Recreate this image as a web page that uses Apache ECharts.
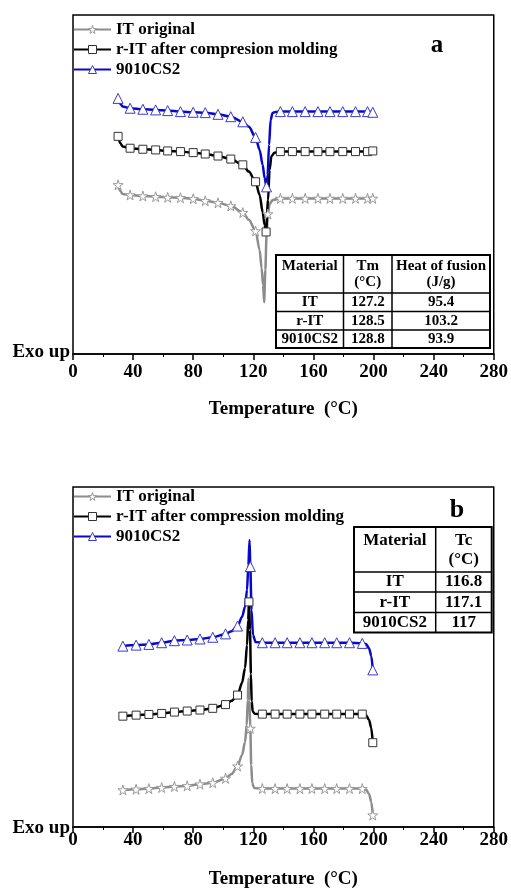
<!DOCTYPE html>
<html><head><meta charset="utf-8">
<script src="https://cdn.jsdelivr.net/npm/echarts@6/dist/echarts.min.js"></script>
<style>html,body{margin:0;padding:0;background:#fff}#c{width:511px;height:890px}</style>
</head><body><div id="c"></div>
<script>
// ---------- Chart (a): melting curves ----------
const aT_IT = [30, 31.5, 33, 38, 46.5, 55, 63, 71.5, 80, 88, 96.5, 105, 113, 117, 121.5, 124.2, 125.5, 126.5, 127.2, 128.0, 128.8, 129.7, 130.8, 132.8, 138, 146, 154.5, 163, 171, 179.5, 188, 196, 199.5];
const aV_IT = [49.9, 48.1, 47.2, 46.9, 46.6, 46.4, 46.2, 46.1, 45.8, 45.2, 44.6, 43.7, 41.7, 39.6, 36.3, 30.7, 25.4, 20.4, 15.3, 24.8, 35.1, 41.3, 44.2, 45.4, 45.9, 45.9, 45.9, 45.9, 45.9, 45.9, 45.9, 45.9, 45.9];
const aM_IT = [30, 38, 46.5, 55, 63, 71.5, 80, 88, 96.5, 105, 113, 121.5, 129.7, 138, 146, 154.5, 163, 171, 179.5, 188, 196, 199.5];

const aT_R = [30, 31.5, 33, 38, 46.5, 55, 63, 71.5, 80, 88, 96.5, 105, 113, 117, 121.5, 124.2, 126.2, 127.5, 128.5, 129.8, 130.8, 132.1, 134.1, 138, 146, 154.5, 163, 171, 179.5, 188, 196, 199.5];
const aV_R = [64.2, 62.2, 61.2, 60.7, 60.4, 60.2, 59.9, 59.7, 59.4, 59.0, 58.4, 57.5, 55.8, 53.8, 50.8, 46.9, 41.9, 38.1, 36.0, 45.4, 54.3, 58.4, 59.4, 59.7, 59.7, 59.7, 59.7, 59.7, 59.7, 59.7, 59.7, 59.9];
const aM_R = [30, 38, 46.5, 55, 63, 71.5, 80, 88, 96.5, 105, 113, 121.5, 128.5, 138, 146, 154.5, 163, 171, 179.5, 188, 196, 199.5];

const aT_C = [30, 31.5, 33, 38, 46.5, 55, 63, 71.5, 80, 88, 96.5, 105, 113, 117, 121.5, 124.2, 126.2, 127.5, 128.8, 129.5, 130.5, 131.5, 132.8, 134.8, 138, 146, 154.5, 163, 171, 179.5, 188, 196, 199.5];
const aV_C = [75.4, 73.8, 73.0, 72.5, 72.2, 72.0, 71.8, 71.5, 71.3, 71.2, 70.7, 70.0, 68.5, 67.0, 63.9, 60.2, 55.8, 51.9, 49.3, 52.8, 61.7, 69.0, 71.1, 71.4, 71.5, 71.5, 71.5, 71.5, 71.5, 71.5, 71.5, 71.5, 71.3];
const aM_C = [30, 38, 46.5, 55, 63, 71.5, 80, 88, 96.5, 105, 113, 121.5, 128.8, 138, 146, 154.5, 163, 171, 179.5, 188, 196, 199.5];

// ---------- Chart (b): crystallization curves ----------
const bT_IT = [33.2, 42, 50.5, 59, 67.5, 76, 84.5, 93, 101.5, 105.5, 109.5, 112.5, 114.5, 115.6, 116.3, 116.8, 117.4, 118.0, 118.6, 119.3, 120.5, 126, 134.5, 142.5, 151, 159, 167.5, 175.5, 184, 192.5, 195, 197, 198.5, 199.5];
const bV_IT = [10.9, 11.1, 11.3, 11.6, 11.9, 12.1, 12.6, 13.0, 14.3, 15.6, 17.9, 21.2, 25.0, 30.0, 37.4, 43.7, 37.0, 29.0, 18.2, 12.9, 11.5, 11.3, 11.3, 11.3, 11.3, 11.3, 11.3, 11.3, 11.3, 11.3, 11.0, 9.7, 7.4, 3.5];
const bM_IT = [33.2, 42, 50.5, 59, 67.5, 76, 84.5, 93, 101.5, 109.5, 118.0, 126, 134.5, 142.5, 151, 159, 167.5, 175.5, 184, 192.5, 199.5];

const bT_R = [33.2, 42, 50.5, 59, 67.5, 76, 84.5, 93, 101.5, 105.5, 109.5, 112.5, 114.5, 115.8, 116.6, 117.1, 117.8, 118.4, 118.9, 119.6, 121, 126, 134.5, 142.5, 151, 159, 167.5, 175.5, 184, 192.5, 195, 197, 198.5, 199.5];
const bV_R = [32.6, 32.9, 33.1, 33.4, 33.8, 34.1, 34.4, 34.9, 36.0, 37.1, 38.8, 42.4, 46.8, 53.5, 60.9, 66.2, 58.0, 45.0, 37.0, 34.0, 33.3, 33.2, 33.2, 33.2, 33.2, 33.2, 33.2, 33.2, 33.2, 33.2, 32.9, 31.5, 29.1, 24.8];
const bM_R = [33.2, 42, 50.5, 59, 67.5, 76, 84.5, 93, 101.5, 109.5, 117.1, 126, 134.5, 142.5, 151, 159, 167.5, 175.5, 184, 192.5, 199.5];

const bT_C = [33.2, 42, 50.5, 59, 67.5, 76, 84.5, 93, 101.5, 105.5, 109.5, 112.5, 114.5, 115.8, 116.7, 117.5, 118.0, 118.8, 119.8, 121.5, 126, 134.5, 142.5, 151, 159, 167.5, 175.5, 184, 192.5, 195, 197, 198.5, 199.5];
const bV_C = [53.2, 53.5, 53.7, 54.2, 54.8, 55.0, 55.3, 55.8, 56.8, 57.6, 59.1, 61.8, 64.8, 69.7, 77.0, 84.4, 76.6, 63.8, 56.5, 54.4, 54.2, 54.2, 54.2, 54.2, 54.2, 54.2, 54.2, 54.2, 54.0, 53.8, 52.6, 50.3, 46.2];
const bM_C = [33.2, 42, 50.5, 59, 67.5, 76, 84.5, 93, 101.5, 109.5, 118.0, 126, 134.5, 142.5, 151, 159, 167.5, 175.5, 184, 192.5, 199.5];

// ---------- labels / tables ----------
const seriesNames = ['IT original', 'r-IT after compresion molding', '9010CS2'];
const seriesNamesB = ['IT original', 'r-IT after compression molding', '9010CS2'];
const xTitle = 'Temperature  (°C)';
const tableAHead = [['Material'], ['Tm', '(°C)'], ['Heat of fusion', '(J/g)']];
const tableARows = [['IT', '127.2', '95.4'], ['r-IT', '128.5', '103.2'], ['9010CS2', '128.8', '93.9']];
const tableBHead = [['Material'], ['Tc', '(°C)']];
const tableBRows = [['IT', '116.8'], ['r-IT', '117.1'], ['9010CS2', '117']];

const FONT = '"Liberation Serif", "Times New Roman", serif';
const STAR = 'path://M50,0 L61,35 L98,35 L68,57 L79,91 L50,70 L21,91 L32,57 L2,35 L39,35 Z';

function mk(name, T, V, M, g, color, sym, size, border) {
  return {
    name: name, type: 'line', xAxisIndex: g, yAxisIndex: g,
    smooth: 0.3, smoothMonotone: 'x',
    symbol: sym, symbolSize: size, showSymbol: true, showAllSymbol: true,
    lineStyle: { color: color, width: 2.5 },
    itemStyle: { color: '#fff', borderColor: border, borderWidth: 1 },
    emphasis: { disabled: true },
    data: T.map((t, i) => M.indexOf(t) >= 0 ? [t, V[i]] : { value: [t, V[i]], symbol: 'none' })
  };
}

function xAx(g, margin, gap) {
  return {
    gridIndex: g, type: 'value', min: 0, max: 280, interval: 40,
    name: xTitle, nameLocation: 'middle', nameGap: gap,
    nameTextStyle: { fontFamily: FONT, fontWeight: 'bold', fontSize: 19, color: '#000' },
    axisLine: { lineStyle: { color: '#000', width: 1.5 } },
    axisTick: { show: true, length: 6, lineStyle: { color: '#000', width: 1.5 } },
    minorTick: { show: true, splitNumber: 2, length: 3, lineStyle: { color: '#000', width: 1 } },
    axisLabel: { margin: margin, fontFamily: FONT, fontWeight: 'bold', fontSize: 19, color: '#000' },
    splitLine: { show: false }
  };
}
function yAx(g) {
  return { gridIndex: g, type: 'value', min: 0, max: 100, show: true,
    axisLine: { show: false }, axisTick: { show: false }, axisLabel: { show: false }, splitLine: { show: false } };
}
function leg(names, top) {
  return {
    data: names, orient: 'vertical', left: 73, top: top, padding: 0, itemGap: 3,
    itemWidth: 37, itemHeight: 10, selectedMode: false,
    itemStyle: { borderWidth: 1 },
    textStyle: { fontFamily: FONT, fontWeight: 'bold', fontSize: 17, color: '#000' }
  };
}

function table(x, y, head, rows, fs, lw) {
  const els = [];
  const W = x[x.length - 1] - x[0], H = y[y.length - 1] - y[0];
  els.push({ type: 'rect', shape: { x: x[0], y: y[0], width: W, height: H }, style: { fill: '#fff', stroke: '#000', lineWidth: lw } });
  for (let i = 1; i < x.length - 1; i++) els.push({ type: 'line', shape: { x1: x[i], y1: y[0], x2: x[i], y2: y[y.length - 1] }, style: { stroke: '#000', lineWidth: 1.5 } });
  for (let j = 1; j < y.length - 1; j++) els.push({ type: 'line', shape: { x1: x[0], y1: y[j], x2: x[x.length - 1], y2: y[j] }, style: { stroke: '#000', lineWidth: 1.5 } });
  const font = 'bold ' + fs + 'px ' + FONT;
  const hh = y[1] - y[0];
  head.forEach((lines, c) => {
    const cx = (x[c] + x[c + 1]) / 2;
    lines.forEach((t, k) => {
      els.push({ type: 'text', style: { text: t, x: cx, y: y[0] + hh * (0.3 + 0.42 * k), align: 'center', verticalAlign: 'middle', font: font, fill: '#000' } });
    });
  });
  rows.forEach((r, ri) => {
    const cy = (y[ri + 1] + y[ri + 2]) / 2;
    r.forEach((t, c) => {
      els.push({ type: 'text', style: { text: t, x: (x[c] + x[c + 1]) / 2, y: cy, align: 'center', verticalAlign: 'middle', font: font, fill: '#000' } });
    });
  });
  return els;
}

const chart = echarts.init(document.getElementById('c'), null, { renderer: 'canvas' });
const GRAY = '#8c8c8c', BLACK = '#000000', BLUE = '#0808c8';
chart.setOption({
  animation: false,
  backgroundColor: '#fff',
  grid: [
    { left: 73, right: 16, top: 15, height: 339, show: true, borderColor: '#000', borderWidth: 1.5, backgroundColor: 'transparent' },
    { left: 73, right: 16, top: 487, height: 340, show: true, borderColor: '#000', borderWidth: 1.5, backgroundColor: 'transparent' }
  ],
  xAxis: [xAx(0, 9, 46), xAx(1, 4, 43)],
  yAxis: [yAx(0), yAx(1)],
  legend: [leg(seriesNames, 21), leg(seriesNamesB, 488)],
  series: [
    mk(seriesNames[0], aT_IT, aV_IT, aM_IT, 0, GRAY, STAR, 10, '#999'),
    mk(seriesNames[1], aT_R, aV_R, aM_R, 0, BLACK, 'rect', 8, '#333'),
    mk(seriesNames[2], aT_C, aV_C, aM_C, 0, BLUE, 'triangle', 10, '#3a3ad0'),
    mk(seriesNamesB[0], bT_IT, bV_IT, bM_IT, 1, GRAY, STAR, 10, '#999'),
    mk(seriesNamesB[1], bT_R, bV_R, bM_R, 1, BLACK, 'rect', 8, '#333'),
    mk(seriesNamesB[2], bT_C, bV_C, bM_C, 1, BLUE, 'triangle', 10, '#3a3ad0')
  ],
  graphic: [].concat(
    [{ type: 'text', style: { text: 'Exo up', x: 70, y: 352, align: 'right', verticalAlign: 'middle', font: 'bold 19px ' + FONT, fill: '#000' } },
     { type: 'text', style: { text: 'Exo up', x: 70, y: 828, align: 'right', verticalAlign: 'middle', font: 'bold 19px ' + FONT, fill: '#000' } },
     { type: 'text', style: { text: 'a', x: 437, y: 46, align: 'center', verticalAlign: 'middle', font: 'bold 25px ' + FONT, fill: '#000' } },
     { type: 'text', style: { text: 'b', x: 457, y: 510, align: 'center', verticalAlign: 'middle', font: 'bold 26px ' + FONT, fill: '#000' } }],
    table([276, 343.5, 392, 490], [255, 293, 311.5, 330, 348], tableAHead, tableARows, 15, 2),
    table([354, 435.7, 491.7], [527, 572, 592, 612.5, 632.5], tableBHead, tableBRows, 17, 2)
  )
});
</script></body></html>
